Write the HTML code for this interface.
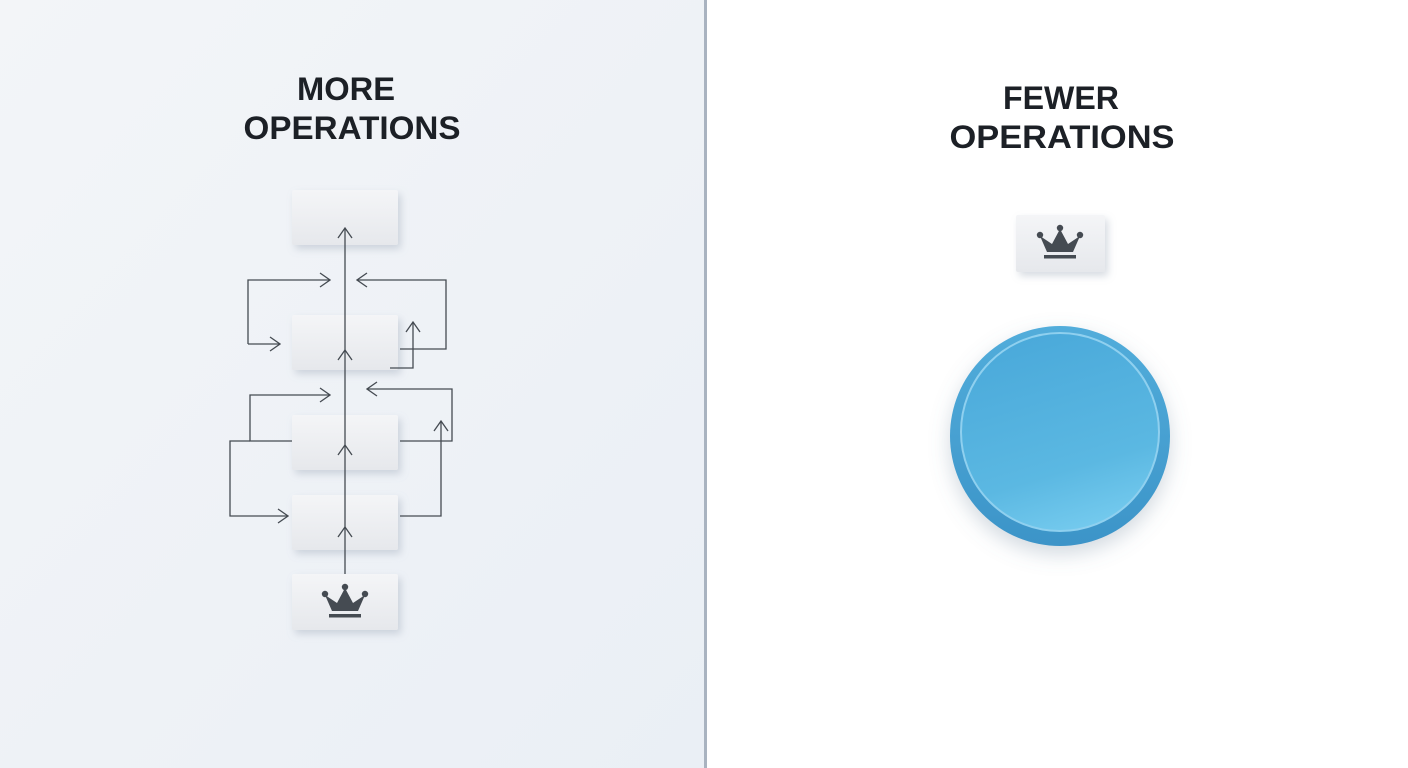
<!DOCTYPE html>
<html><head><meta charset="utf-8"><style>
html,body{margin:0;padding:0;width:1408px;height:768px;overflow:hidden;background:#fff}
</style></head><body>
<svg width="1408" height="768" viewBox="0 0 1408 768" xmlns="http://www.w3.org/2000/svg">
<defs>
<linearGradient id="lbg" x1="0" y1="0" x2="1" y2="1"><stop offset="0" stop-color="#f3f5f8"/><stop offset="1" stop-color="#eaeff5"/></linearGradient>
<linearGradient id="box" x1="0" y1="0" x2="0" y2="1"><stop offset="0" stop-color="#f4f5f7"/><stop offset="1" stop-color="#e6e8ec"/></linearGradient>
<linearGradient id="c1" x1="0" y1="0" x2="0" y2="1"><stop offset="0" stop-color="#52addb"/><stop offset="1" stop-color="#3c94c8"/></linearGradient>
<linearGradient id="c2" x1="0.3" y1="0" x2="0.6" y2="1"><stop offset="0" stop-color="#4aa9da"/><stop offset="0.7" stop-color="#5bb8e2"/><stop offset="1" stop-color="#74caee"/></linearGradient>
<filter id="sh" x="-30%" y="-30%" width="160%" height="170%"><feDropShadow dx="3" dy="4" stdDeviation="4" flood-color="#8a98ab" flood-opacity="0.35"/></filter>
<filter id="csh" x="-30%" y="-30%" width="160%" height="160%"><feDropShadow dx="0" dy="8" stdDeviation="10" flood-color="#6a8096" flood-opacity="0.3"/></filter>
<g id="crown" fill="#454b52">
<path d="M-20,-7 L-13,9 L13,9 L20,-7 L8,1 L0,-14 L-8,1 Z"/>
<circle cx="-20" cy="-8" r="3.2"/><circle cx="20" cy="-8" r="3.2"/><circle cx="0" cy="-15" r="3.2"/>
<rect x="-16" y="12" width="32" height="3.5"/>
</g>
<marker id="ar" viewBox="0 0 12 16" refX="11" refY="8" markerWidth="12" markerHeight="16" markerUnits="userSpaceOnUse" orient="auto"><path d="M1,1 L11,8 L1,15" fill="none" stroke="#454b52" stroke-width="1.3"/></marker>
</defs>
<rect x="0" y="0" width="704" height="768" fill="url(#lbg)"/>
<rect x="704" y="0" width="3" height="768" fill="#a9b3c0"/>
<g font-family="Liberation Sans, sans-serif" font-weight="bold" font-size="32" fill="#1c2026" text-anchor="middle">
<text x="346" y="100" textLength="98" lengthAdjust="spacingAndGlyphs">MORE</text>
<text x="352" y="139" textLength="217" lengthAdjust="spacingAndGlyphs">OPERATIONS</text>
<text x="1061" y="109" textLength="116" lengthAdjust="spacingAndGlyphs">FEWER</text>
<text x="1062" y="148" textLength="225" lengthAdjust="spacingAndGlyphs">OPERATIONS</text>
</g>
<g filter="url(#sh)" fill="url(#box)">
<rect x="292" y="190" width="106" height="55" rx="2"/>
<rect x="292" y="315" width="106" height="55" rx="2"/>
<rect x="292" y="415" width="106" height="55" rx="2"/>
<rect x="292" y="495" width="106" height="55" rx="2"/>
<rect x="292" y="574" width="106" height="56" rx="2"/>
<rect x="1016" y="215" width="89" height="57" rx="2"/>
</g>
<g fill="none" stroke="#454b52" stroke-width="1.3">
<line x1="345" y1="574" x2="345" y2="527" marker-end="url(#ar)"/>
<line x1="345" y1="527" x2="345" y2="445" marker-end="url(#ar)"/>
<line x1="345" y1="445" x2="345" y2="350" marker-end="url(#ar)"/>
<line x1="345" y1="350" x2="345" y2="228" marker-end="url(#ar)"/>
<polyline points="248,344 248,280 330,280" marker-end="url(#ar)"/>
<line x1="248" y1="344" x2="280" y2="344" marker-end="url(#ar)"/>
<polyline points="400,349 446,349 446,280 357,280" marker-end="url(#ar)"/>
<polyline points="390,368 413,368 413,322" marker-end="url(#ar)"/>
<polyline points="292,441 250,441 250,395 330,395" marker-end="url(#ar)"/>
<polyline points="250,441 230,441 230,516 288,516" marker-end="url(#ar)"/>
<polyline points="400,441 452,441 452,389 367,389" marker-end="url(#ar)"/>
<polyline points="400,516 441,516 441,421" marker-end="url(#ar)"/>
</g>
<use href="#crown" x="345" y="602"/>
<use href="#crown" x="1060" y="243"/>
<circle cx="1060" cy="436" r="110" fill="url(#c1)" filter="url(#csh)"/>
<circle cx="1060" cy="432" r="99" fill="url(#c2)" stroke="#8fd0ef" stroke-width="2"/>
</svg>
</body></html>
